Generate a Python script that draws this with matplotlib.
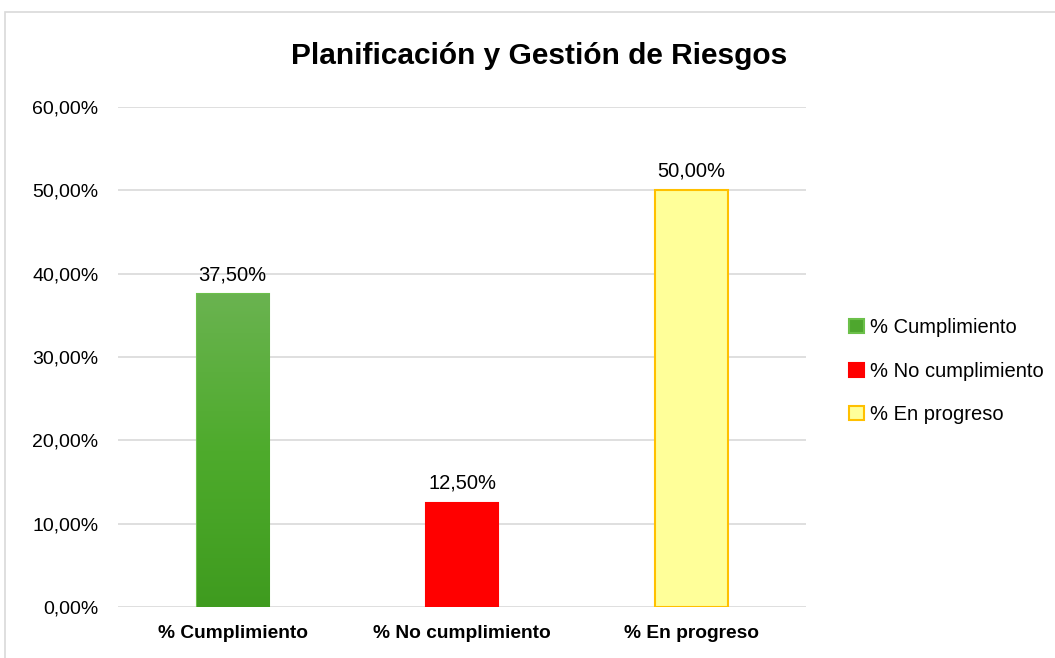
import numpy as np
import matplotlib.pyplot as plt
from matplotlib.patches import Rectangle, Patch
from matplotlib.ticker import FuncFormatter, MultipleLocator
from matplotlib.colors import LinearSegmentedColormap

plt.rcParams['font.family'] = ['Liberation Sans', 'DejaVu Sans']

categorias = ["% Cumplimiento", "% No cumplimiento", "% En progreso"]
valores = [0.375, 0.125, 0.50]
colores = ["#4ea72e", "#ff0000", "#ffff99"]
bordes = ["#6cc04a", "#ff0000", "#ffc000"]
titulo = "Planificación y Gestión de Riesgos"


def pct(v, pos=None):
    return ("%.2f%%" % (v * 100)).replace(".", ",")


fig = plt.figure(figsize=(10.55, 6.58), dpi=100)
# marco del grafico
fig.patches.append(Rectangle((5 / 1055, -0.01), 1.02, (646 / 658) + 0.01,
                             transform=fig.transFigure, fill=False,
                             edgecolor="#d9d9d9", lw=1.2))

ax = fig.add_axes([0.1118, 0.0775, 0.6524, 0.76])
x = np.arange(len(categorias))
ancho = 0.314
barras = ax.bar(x, valores, width=ancho, color=colores, edgecolor=bordes,
                linewidth=1.5, zorder=3)

# degradado en la barra verde
b = barras[0]
grad = np.linspace(0, 1, 256).reshape(-1, 1)
cmap = LinearSegmentedColormap.from_list("g", ["#3f9b1f", "#4eab2c", "#6ab350"])
im = ax.imshow(grad, extent=[b.get_x(), b.get_x() + b.get_width(), 0, b.get_height()],
               origin="lower", aspect="auto", cmap=cmap, zorder=3.5)
im.set_clip_path(b)

for xi, v in zip(x, valores):
    ax.text(xi, v + 0.012, pct(v), ha="center", va="bottom", fontsize=14.5, zorder=5)

ax.set_xlim(-0.5, 2.5)
ax.set_ylim(0, 0.6)
ax.yaxis.set_major_locator(MultipleLocator(0.1))
ax.yaxis.set_major_formatter(FuncFormatter(pct))
ax.grid(axis="y", color="#d9d9d9", lw=1.2, zorder=0)
ax.set_xticks(x)
ax.set_xticklabels(categorias, fontweight="bold", fontsize=13.8)
ax.tick_params(axis="both", length=0)
ax.tick_params(axis="y", labelsize=14, pad=14)
ax.tick_params(axis="x", pad=13)
for s in ax.spines.values():
    s.set_visible(False)

fig.text(0.511, 0.915, titulo, ha="center", va="center", fontsize=21.5,
         fontweight="bold")

handles = [Patch(facecolor=c, edgecolor=e, linewidth=1.5) for c, e in zip(colores, bordes)]
fig.legend(handles, categorias, loc="center left", bbox_to_anchor=(0.788, 0.436),
           frameon=False, fontsize=14.5, handlelength=0.7, handleheight=0.7,
           handletextpad=0.3, labelspacing=1.2)

fig.savefig("out.png", dpi=100)
